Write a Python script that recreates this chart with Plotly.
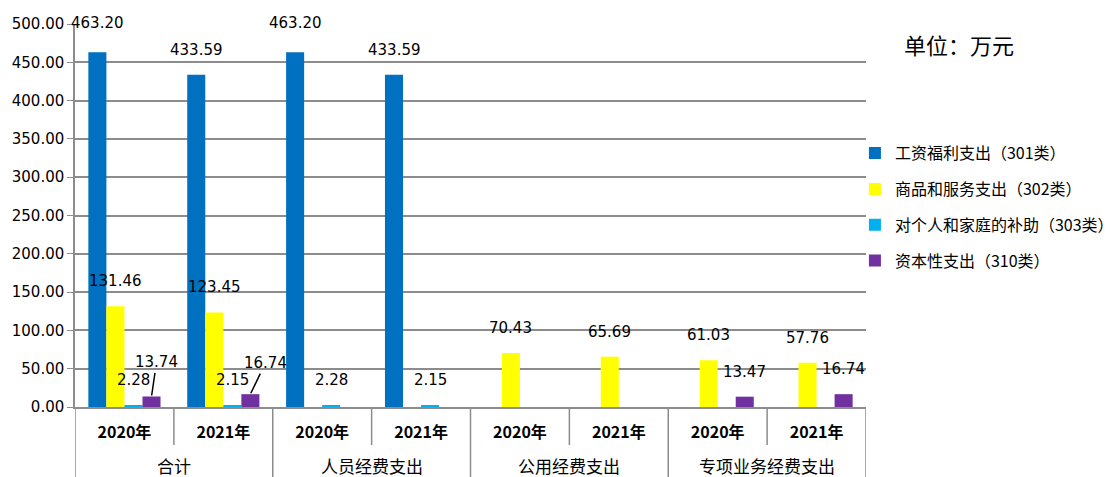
import plotly.graph_objects as go

groups = ["合计", "合计", "人员经费支出", "人员经费支出", "公用经费支出", "公用经费支出",
          "专项业务经费支出", "专项业务经费支出"]
years = ["2020年", "2021年"] * 4

series_names = ["工资福利支出（301类）", "商品和服务支出（302类）",
                "对个人和家庭的补助（303类）", "资本性支出（310类）"]
wages = [463.20, 433.59, 463.20, 433.59, 0, 0, 0, 0]
goods = [131.46, 123.45, 0, 0, 70.43, 65.69, 61.03, 57.76]
subsidy = [2.28, 2.15, 2.28, 2.15, 0, 0, 0, 0]
capital = [13.74, 16.74, 0, 0, 0, 0, 13.47, 16.74]
values = [wages, goods, subsidy, capital]

colors = ["#0070C0", "#FFFF00", "#00B0F0", "#7030A0"]
GRID = "#8C8C8C"
BARGAP = 0.27
n_series = len(values)
bw = (1 - BARGAP) / n_series

PLOT_H = 477 - 24 - 70  # plot area height in px

# category axis: one slot per (group, year); ticks show the year, groups drawn below
slot_keys = [f"{g} {y}" for g, y in zip(groups, years)]
year_labels = [f"<b>{y}</b>" for y in years]
group_names = list(dict.fromkeys(groups))

fig = go.Figure()
for name, vals, col in zip(series_names, values, colors):
    fig.add_trace(go.Bar(
        x=slot_keys, y=vals, name=name, marker_color=col,
        marker_line_width=0, legendgroup=name,
    ))

# label styling: (series index, slot index) -> (xshift, yshift, arrow)
special = {
    (0, 0): (0, 29, False),
    (0, 2): (0, 29, False),
    (3, 0): (5, 34, True),
    (3, 1): (15, 31, True),
}
annotations = []
for i, vals in enumerate(values):
    for j, v in enumerate(vals):
        if v == 0:
            continue
        xpos = j + (i - (n_series - 1) / 2) * bw
        xs, ys, arrow = special.get((i, j), (0, 25, False))
        if arrow:
            annotations.append(dict(
                x=xpos, y=v, xref="x", yref="y", text=f"{v:.2f}",
                showarrow=True, arrowhead=0, arrowwidth=1.5, arrowcolor="#000000",
                ax=xs, ay=-ys, standoff=1,
                font=dict(family="DejaVu Sans", size=15, color="#000000"),
            ))
        else:
            annotations.append(dict(
                x=xpos, y=v, xref="x", yref="y", text=f"{v:.2f}",
                showarrow=False, xshift=xs, yshift=ys, yanchor="middle",
                font=dict(family="DejaVu Sans", size=15, color="#000000"),
            ))

# group names under the year labels
for g in group_names:
    idx = [k for k, gg in enumerate(groups) if gg == g]
    annotations.append(dict(
        x=(idx[0] + idx[-1]) / 2, y=-58 / PLOT_H, xref="x", yref="paper",
        text=g, showarrow=False, yanchor="middle",
        font=dict(family="Noto Sans CJK SC", size=17, color="#000000"),
    ))

annotations.append(dict(
    x=1.046, y=0.947, xref="paper", yref="paper", xanchor="left", yanchor="middle",
    text="单位：万元", showarrow=False,
    font=dict(family="Noto Sans CJK SC", size=22, color="#000000"),
))

# separators: between years (short) and between groups (full height)
shapes = []
for k in range(len(groups) + 1):
    if k == 0 or k == len(groups) or groups[k] != groups[k - 1]:
        y1 = -70 / PLOT_H
    else:
        y1 = -38 / PLOT_H
    shapes.append(dict(type="line", xref="x", yref="paper",
                       x0=k - 0.5, x1=k - 0.5, y0=0, y1=y1,
                       line=dict(color=GRID, width=1.5)))

fig.update_layout(
    width=1114, height=477,
    margin=dict(l=75, r=248, t=24, b=70, autoexpand=False),
    plot_bgcolor="#FFFFFF", paper_bgcolor="#FFFFFF",
    bargap=BARGAP, bargroupgap=0, barmode="group",
    font=dict(family="Noto Sans CJK SC", size=15, color="#000000"),
    legend=dict(x=0.986, y=0.707, xanchor="left", yanchor="top",
                font=dict(family="Noto Sans CJK SC", size=16),
                tracegroupgap=12, traceorder="grouped",
                bgcolor="rgba(0,0,0,0)"),
    annotations=annotations,
    shapes=shapes,
)
fig.update_yaxes(range=[0, 500], dtick=50, tickformat=".2f",
                 showgrid=True, gridcolor=GRID, gridwidth=1.5,
                 showline=True, linecolor=GRID, linewidth=1.5,
                 ticks="outside", ticklen=6, tickcolor=GRID,
                 tickfont=dict(family="DejaVu Sans", size=15), zeroline=False,
                 automargin=False)
fig.update_xaxes(type="category", categoryorder="array", categoryarray=slot_keys,
                 tickmode="array", tickvals=slot_keys, ticktext=year_labels,
                 range=[-0.5, len(groups) - 0.5], autorange=False,
                 showline=True, linecolor=GRID, linewidth=1.5,
                 ticks="", ticklabelstandoff=10,
                 tickfont=dict(family="Noto Sans CJK SC", size=16),
                 automargin=False)

fig.write_html("out.html", config={"displayModeBar": False},
               post_script="document.body.style.margin='0px';")
